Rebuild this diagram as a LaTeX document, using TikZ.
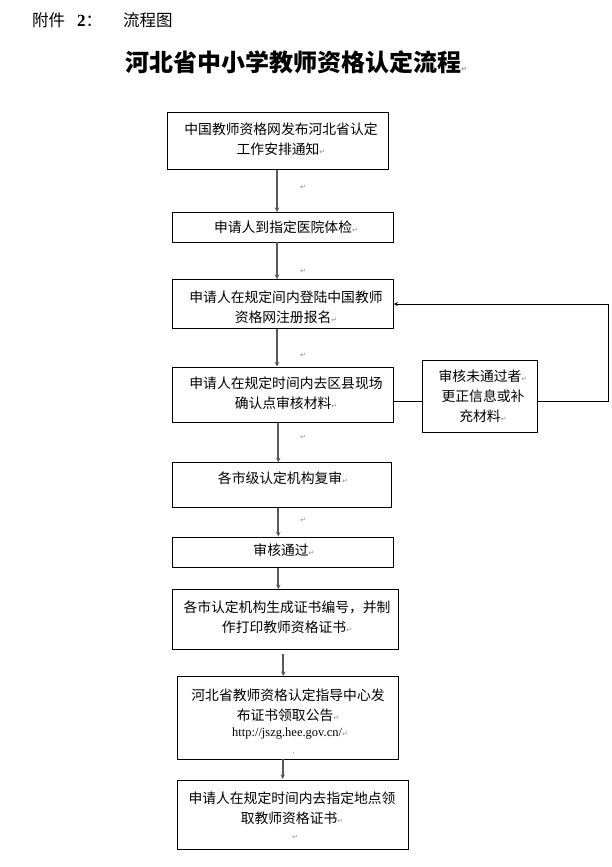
\documentclass[tikz,border=0pt]{standalone}
\usepackage{fontspec}
\usetikzlibrary{arrows.meta}
\newfontfamily\cjk{Noto Sans CJK SC}
\newfontfamily\dvfont{DejaVu Sans}
\newfontfamily\tmsfont{Liberation Serif}
\newcommand\parmk{{\dvfont\color{black!45}\fontsize{7}{7}\selectfont ↵}}
\tikzset{
  box/.style={draw=black, line width=0.9pt, inner sep=0pt, anchor=north west},
  txt/.style={font=\cjk\fontsize{13.8}{20}\selectfont, align=center, inner sep=0pt},
  arr/.style={draw=black!65, line width=1.8pt, -{Stealth[length=4.5pt,width=4.5pt]}},
  fb/.style={draw=black, line width=0.8pt},
  mk/.style={inner sep=0pt}
}
\begin{document}
\begin{tikzpicture}[x=1pt,y=-1pt]
\useasboundingbox (0,0) rectangle (611,867);
% header
\node[anchor=west, inner sep=0pt, font=\cjk\fontsize{16.5}{18}\selectfont] (hd1) at (32,20) {附件\hspace{12pt}{\tmsfont\bfseries\fontsize{17}{18}\selectfont 2}：};
\node[anchor=west, inner sep=0pt, font=\cjk\fontsize{16.5}{18}\selectfont] (hd2) at (123,20) {流程图};
% title
\node[anchor=west, inner sep=0pt, font=\cjk\bfseries\fontsize{24}{26}\selectfont] (title) at (125,62) {河北省中小学教师资格认定流程\parmk};
% boxes
\node[box, minimum width=221pt, minimum height=57pt] (b1) at (167,112) {};
\node[box, minimum width=221pt, minimum height=29.5pt] (b2) at (172,212) {};
\node[box, minimum width=221pt, minimum height=49pt] (b3) at (172,279) {};
\node[box, minimum width=221pt, minimum height=55.5pt] (b4) at (172,366.5) {};
\node[box, minimum width=114.5pt, minimum height=72pt] (sb) at (422.3,360) {};
\node[box, minimum width=218.5pt, minimum height=45pt] (b5) at (172.3,462.3) {};
\node[box, minimum width=220.5pt, minimum height=30.5pt] (b6) at (172.3,536.5) {};
\node[box, minimum width=226pt, minimum height=59.5pt] (b7) at (172.3,589) {};
\node[box, minimum width=221pt, minimum height=82.5pt] (b8) at (177.3,676) {};
\node[box, minimum width=231pt, minimum height=68.5pt] (b9) at (177.3,780) {};
% texts
\node[txt] (t1) at (281,139) {中国教师资格网发布河北省认定\\工作安排通知\parmk};
\node[txt] (t2) at (286,227) {申请人到指定医院体检\parmk};
\node[txt] (t3) at (286,307) {申请人在规定间内登陆中国教师\\资格网注册报名\parmk};
\node[txt] (t4) at (286,393) {申请人在规定时间内去区县现场\\确认点审核材料\parmk};
\node[txt] (t5) at (483,396) {审核未通过者\parmk\\更正信息或补\\充材料\parmk};
\node[txt] (t6) at (283,478.5) {各市级认定机构复审\parmk};
\node[txt] (t7) at (284,550) {审核通过\parmk};
\node[txt] (t8) at (287,617) {各市认定机构生成证书编号，并制\\作打印教师资格证书\parmk};
\node[txt] (t9) at (288,705) {河北省教师资格认定指导中心发\\布证书领取公告\parmk};
\node[inner sep=0pt, font=\tmsfont\fontsize{12.5}{14}\selectfont] (url) at (290,733.5) {http://jszg.hee.gov.cn/\parmk};
\node[txt] (t10) at (292,808.5) {申请人在规定时间内去指定地点领\\取教师资格证书\parmk};
\node[mk] (m0) at (295,837) {\parmk};
\node[mk, fill=black!40, minimum size=0.8pt] (dot) at (293,752) {};
% paragraph marks between boxes
\node[mk] (m1) at (303,187) {\parmk};
\node[mk] (m2) at (303,271) {\parmk};
\node[mk] (m3) at (303,355) {\parmk};
\node[mk] (m4) at (303,437) {\parmk};
\node[mk] (m5) at (303,520) {\parmk};
% arrow columns
\coordinate (c1) at (277,0);
\coordinate (c2) at (278.3,0);
\coordinate (c3) at (283.3,0);
\coordinate (c4) at (282.7,0);
\draw[arr] (b1.south -| c1) -- (b2.north -| c1);
\draw[arr] (b2.south -| c1) -- (b3.north -| c1);
\draw[arr] (b3.south -| c1) -- (b4.north -| c1);
\draw[arr] (b4.south -| c2) -- (b5.north -| c2);
\draw[arr] (b5.south -| c2) -- (b6.north -| c2);
\draw[arr] (b6.south -| c2) -- (b7.north -| c2);
\draw[arr, shorten <=5pt] (b7.south -| c3) -- (b8.north -| c3);
\draw[arr, shorten >=1pt] (b8.south -| c4) -- (b9.north -| c4);
% feedback loop
\coordinate (ly) at (0,401.7);
\coordinate (lr) at (608.3,304);
\coordinate (ltop) at (0,304);
\draw[fb] (b4.east |- ly) -- (sb.west |- ly);
\draw[fb, -{Stealth[length=4pt,width=4pt]}] (sb.east |- ly) -- (lr |- ly) -- (lr) -- (b3.east |- ltop);
\end{tikzpicture}
\end{document}
